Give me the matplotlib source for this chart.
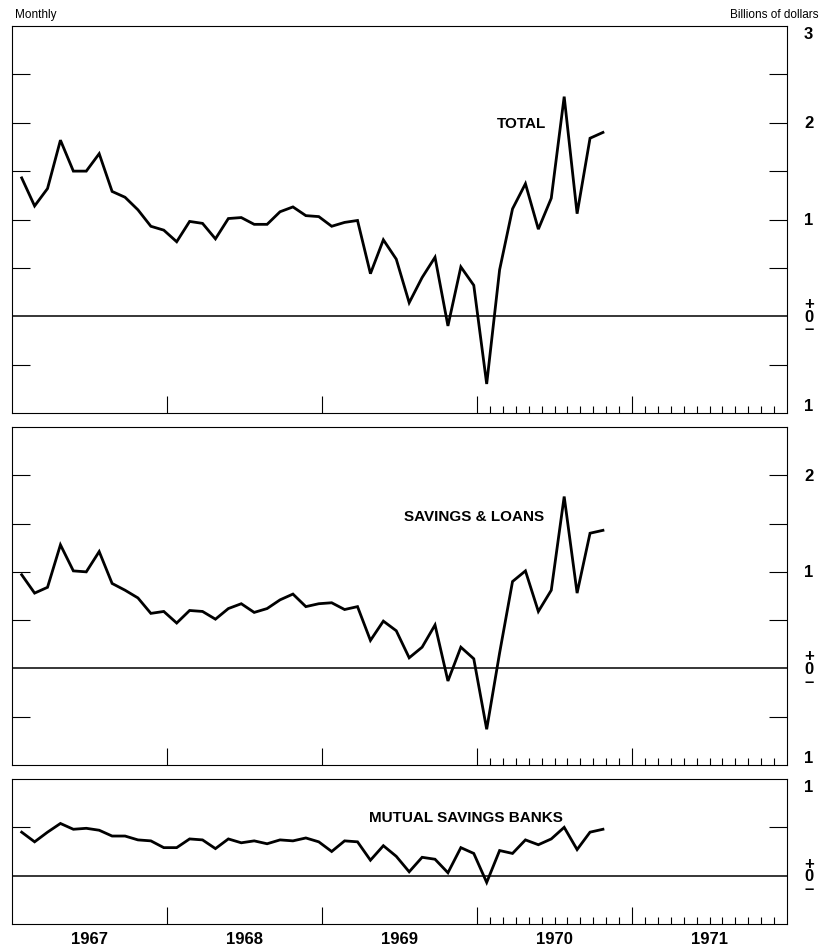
import numpy as np
import matplotlib.pyplot as plt
import matplotlib.transforms as mtransforms

# Monthly flows, billions of dollars, Jan 1967 - Oct 1970
total = [1.43, 1.14, 1.32, 1.82, 1.50, 1.50, 1.68, 1.29, 1.23, 1.10, 0.93, 0.89,
         0.77, 0.98, 0.96, 0.80, 1.01, 1.02, 0.95, 0.95, 1.08, 1.13, 1.04, 1.03,
         0.93, 0.97, 0.99, 0.44, 0.79, 0.59, 0.14, 0.40, 0.61, -0.10, 0.51, 0.32,
         -0.70, 0.48, 1.11, 1.37, 0.90, 1.22, 2.27, 1.06, 1.84, 1.90]
savings_loans = [0.97, 0.78, 0.84, 1.28, 1.01, 1.00, 1.21, 0.88, 0.81, 0.73, 0.57, 0.59,
                 0.47, 0.60, 0.59, 0.51, 0.62, 0.67, 0.58, 0.62, 0.71, 0.77, 0.64, 0.67,
                 0.68, 0.61, 0.64, 0.29, 0.49, 0.39, 0.11, 0.22, 0.45, -0.13, 0.22, 0.10,
                 -0.63, 0.16, 0.90, 1.01, 0.59, 0.81, 1.78, 0.78, 1.40, 1.43]
mutual_savings = [0.45, 0.35, 0.45, 0.54, 0.48, 0.49, 0.47, 0.41, 0.41, 0.37, 0.36, 0.29,
                  0.29, 0.38, 0.37, 0.28, 0.38, 0.34, 0.36, 0.33, 0.37, 0.36, 0.39, 0.35,
                  0.25, 0.36, 0.35, 0.16, 0.31, 0.20, 0.04, 0.19, 0.17, 0.03, 0.29, 0.23,
                  -0.07, 0.26, 0.23, 0.37, 0.32, 0.38, 0.50, 0.27, 0.45, 0.48]
first_year = 1967
years = [1967, 1968, 1969, 1970, 1971]
monthly_ticks_from = 1970

FONT = 'Liberation Sans'
plt.rcParams['font.family'] = [FONT, 'DejaVu Sans']

W, H = 821, 953
fig = plt.figure(figsize=(W / 100, H / 100), dpi=100)


def box(top, bottom):
    # pixel rows -> figure fraction
    return [12 / W, 1 - bottom / H, 775 / W, (bottom - top) / H]


def right_label(ax, y, text, va='center'):
    trans = mtransforms.blended_transform_factory(ax.transAxes, ax.transData)
    if text == '0':
        # plus / zero / minus stacked in one text
        ax.text(1.028, y, '+\n0\n\u2013', transform=trans, ha='center', va='center',
                multialignment='center', linespacing=0.8,
                fontsize=12, fontweight='bold')
    else:
        ax.text(1.028, y, text, transform=trans, ha='center', va=va,
                fontsize=12, fontweight='bold')


def draw_panel(ax, values, ymin, ymax, name, name_xy, labels):
    x = first_year + (np.arange(len(values)) + 0.75) / 12
    ax.plot(x, values, color='black', lw=2.0, solid_joinstyle='miter')
    ax.axhline(0, color='black', lw=1.1)
    ax.set_xlim(years[0], years[-1] + 1)
    ax.set_ylim(ymin, ymax)
    for s in ax.spines.values():
        s.set_linewidth(0.8)

    # inward ticks every half billion, left and right
    yt = [v for v in np.arange(ymin, ymax + 0.01, 0.5) if ymin < v < ymax and v != 0]
    ax.set_yticks(yt)
    ax.tick_params(axis='y', which='major', direction='in', length=13, width=0.8,
                   left=True, right=True, labelleft=False, labelright=False)

    # year boundaries + monthly ticks for the later years
    ax.set_xticks(years[1:])
    minor = [y + m / 12 for y in years if y >= monthly_ticks_from for m in range(1, 12)]
    ax.set_xticks(minor, minor=True)
    ax.tick_params(axis='x', which='major', direction='in', length=12, width=0.8,
                   labelbottom=False)
    ax.tick_params(axis='x', which='minor', direction='in', length=5, width=0.8)

    for yv, txt in labels:
        va = 'center'
        if yv == ymax:
            va = 'top'
        elif yv == ymin:
            va = 'bottom'
        right_label(ax, yv, txt, va)

    ax.text(name_xy[0], name_xy[1], name, fontsize=11, fontweight='bold',
            ha='center', va='center')


ax1 = fig.add_axes(box(27, 414))
draw_panel(ax1, total, -1, 3, 'TOTAL', (1970.29, 2.0),
           [(3, '3'), (2, '2'), (1, '1'), (0, '0'), (-1, '1')])

ax2 = fig.add_axes(box(428, 766))
draw_panel(ax2, savings_loans, -1, 2.5, 'SAVINGS & LOANS', (1969.98, 1.58),
           [(2, '2'), (1, '1'), (0, '0'), (-1, '1')])

ax3 = fig.add_axes(box(780, 925))
draw_panel(ax3, mutual_savings, -0.5, 1, 'MUTUAL SAVINGS BANKS', (1969.93, 0.61),
           [(1, '1'), (0, '0')])

for yr in years:
    ax3.text(yr + 0.5, -0.103, str(yr), transform=ax3.get_xaxis_transform(),
             ha='center', va='center', fontsize=12, fontweight='bold')

fig.text(15 / W, 1 - 15 / H, 'Monthly', fontsize=8.5, ha='left', va='center')
fig.text(818 / W, 1 - 15 / H, 'Billions of dollars', fontsize=8.5, ha='right', va='center')

fig.savefig('out.png', dpi=100)
